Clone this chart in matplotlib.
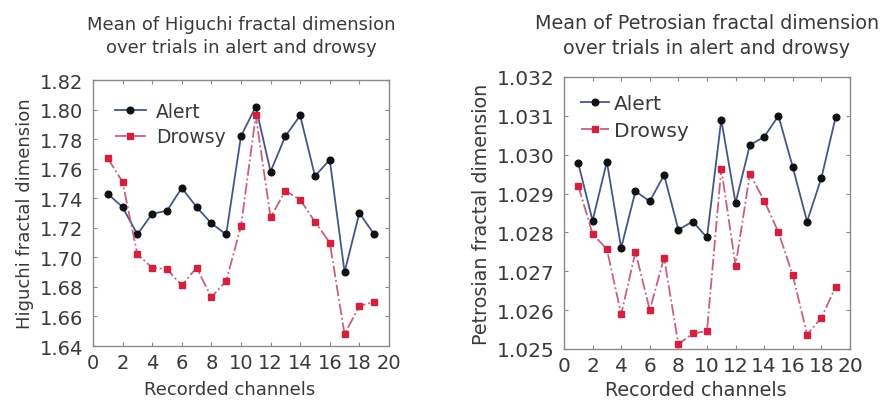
import matplotlib
matplotlib.use("Agg")
import matplotlib.pyplot as plt

plt.rcParams['font.family'] = ['DejaVu Sans']

channels = list(range(1, 20))

higuchi_alert = [1.743, 1.734, 1.7155, 1.7295, 1.7315, 1.747, 1.734, 1.723, 1.7155, 1.782,
                 1.802, 1.758, 1.782, 1.796, 1.755, 1.766, 1.690, 1.730, 1.7155]
higuchi_drowsy = [1.767, 1.751, 1.702, 1.693, 1.692, 1.681, 1.693, 1.673, 1.684, 1.721,
                  1.796, 1.727, 1.745, 1.739, 1.724, 1.710, 1.648, 1.667, 1.670]

petrosian_alert = [1.02978, 1.0283, 1.02982, 1.0276, 1.02906, 1.0288, 1.02948, 1.02807, 1.02828, 1.02787,
                   1.0309, 1.02876, 1.03025, 1.03046, 1.0310, 1.02968, 1.02828, 1.0294, 1.03097]
petrosian_drowsy = [1.0292, 1.02796, 1.02757, 1.02589, 1.0275, 1.0260, 1.02735, 1.02512, 1.0254, 1.02546,
                    1.02964, 1.02714, 1.0295, 1.02882, 1.0280, 1.0269, 1.02537, 1.0258, 1.0266]

x_ticks = list(range(0, 21, 2))
higuchi_ticks = [1.64, 1.66, 1.68, 1.70, 1.72, 1.74, 1.76, 1.78, 1.80, 1.82]
petrosian_ticks = [1.025, 1.026, 1.027, 1.028, 1.029, 1.030, 1.031, 1.032]

text_color = '#3a3a3a'
spine_color = '#8a8a8a'
alert_line = '#46568a'
drowsy_line = '#c8607e'
drowsy_marker = '#d4203f'

fig = plt.figure(figsize=(8.83, 4.02), dpi=100)

panels = [
    dict(rect=[0.1053, 0.1368, 0.3352, 0.6617], alert=higuchi_alert, drowsy=higuchi_drowsy,
         yticks=higuchi_ticks, fmt='{:.2f}',
         title='Mean of Higuchi fractal dimension\nover trials in alert and drowsy',
         ylabel='Higuchi fractal dimension',
         title_size=13, label_size=13, tick_size=14, title_pad=20, xlabel_pad=6,
         leg_size=13.5, leg_len=1.7, leg_gap=0.5, leg_pad=0.75, leg_spacing=0.35),
    dict(rect=[0.6387, 0.1294, 0.3239, 0.6766], alert=petrosian_alert, drowsy=petrosian_drowsy,
         yticks=petrosian_ticks, fmt='{:.3f}',
         title='Mean of Petrosian fractal dimension\nover trials in alert and drowsy',
         ylabel='Petrosian fractal dimension',
         title_size=13.8, label_size=13.8, tick_size=14.5, title_pad=17, xlabel_pad=4,
         leg_size=14.5, leg_len=1.4, leg_gap=0.25, leg_pad=0.45, leg_spacing=0.4),
]

for p in panels:
    ax = fig.add_axes(p['rect'])
    ax.plot(channels, p['alert'], color=alert_line, lw=1.3, marker='o', ms=4.8,
            mfc='#111111', mec='#111111', label='Alert')
    ax.plot(channels, p['drowsy'], color=drowsy_line, lw=1.3, ls='-.', marker='s', ms=4.2,
            mfc=drowsy_marker, mec=drowsy_marker, label='Drowsy')
    ax.set_xlim(0, 20)
    ax.set_ylim(p['yticks'][0], p['yticks'][-1])
    ax.set_xticks(x_ticks)
    ax.set_yticks(p['yticks'])
    ax.set_yticklabels([p['fmt'].format(v) for v in p['yticks']])
    ax.tick_params(direction='in', top=True, right=True, length=3, width=0.8,
                   color=spine_color, labelsize=p['tick_size'], labelcolor=text_color)
    ax.tick_params(axis='y', pad=7)
    ax.tick_params(axis='x', pad=5)
    for s in ax.spines.values():
        s.set_color(spine_color)
        s.set_linewidth(1.0)
    ax.set_title(p['title'], fontsize=p['title_size'], color=text_color,
                 pad=p['title_pad'], linespacing=1.4)
    ax.set_xlabel('Recorded channels', fontsize=p['label_size'], color=text_color,
                  labelpad=p['xlabel_pad'])
    ax.xaxis.label.set_x(0.46)
    ax.set_ylabel(p['ylabel'], fontsize=p['label_size'], color=text_color, labelpad=4)
    leg = ax.legend(loc='upper left', frameon=False, fontsize=p['leg_size'],
                    handlelength=p['leg_len'], handletextpad=p['leg_gap'],
                    labelspacing=p['leg_spacing'], borderaxespad=p['leg_pad'])
    for t in leg.get_texts():
        t.set_color(text_color)

fig.savefig('out.png', dpi=100, facecolor='white')
